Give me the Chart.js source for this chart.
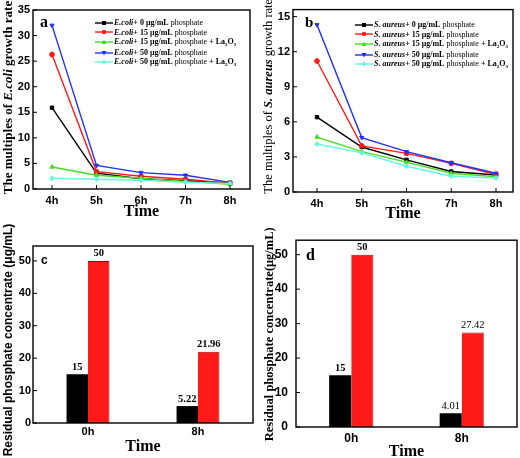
<!DOCTYPE html>
<html>
<head>
<meta charset="utf-8">
<script src="https://cdn.jsdelivr.net/npm/chart.js@4.4.1/dist/chart.umd.min.js"></script>
<style>
  body { margin: 0; background: #fff; }
  #wrap { position: relative; width: 520px; height: 458px; overflow: hidden; background: #fff; }
  canvas { position: absolute; }
  .ytitle { position: absolute; white-space: nowrap; text-align: center; transform: rotate(-90deg); font-family: "Liberation Serif", serif; color: #000; line-height: 1; }
  .tag { position: absolute; color: #000; line-height: 1; }
  .legend { position: absolute; font-family: "Liberation Serif", serif; font-size: 8px; color: #000; }
  .legend div { height: 9.6px; line-height: 9.6px; white-space: nowrap; display: flex; align-items: center; }
  .legend span { display: block; height: 9.6px; line-height: 9.6px; }
  .legend sub { font-size: 5px; line-height: 0; vertical-align: -1.5px; }
  .legend svg { margin-right: 1px; flex: none; }
</style>
</head>
<body>
<div id="wrap">
  <canvas id="ca" width="260" height="225" style="left:0;top:0"></canvas>
  <canvas id="cb" width="260" height="225" style="left:260px;top:0"></canvas>
  <canvas id="cc" width="260" height="233" style="left:0;top:225px"></canvas>
  <canvas id="cd" width="260" height="233" style="left:260px;top:225px"></canvas>

  <div class="ytitle" style="left:-143px;top:91px;width:300px;font-weight:bold;font-size:13px">The multiples of <i>E.coli</i> growth rate</div>
  <div class="ytitle" style="left:118px;top:90px;width:300px;font-size:12.5px">The multiples of <b><i>S. aureus</i></b> growth rate</div>
  <div class="ytitle" style="left:-142px;top:334px;width:300px;font-family:'Liberation Sans',sans-serif;font-weight:bold;font-size:12px">Residual phosphate concentrate (μg/mL)</div>
  <div class="ytitle" style="left:119px;top:328px;width:300px;font-weight:bold;font-size:12.5px">Residual phosphate concentrate(μg/mL)</div>

  <div class="tag" style="left:40px;top:13px;font:bold 16px 'Liberation Serif'">a</div>
  <div class="tag" style="left:305px;top:14px;font:bold 15px 'Liberation Serif'">b</div>
  <div class="tag" style="left:41px;top:253px;font:bold 12px 'Liberation Sans'">c</div>
  <div class="tag" style="left:306px;top:246px;font:bold 16px 'Liberation Serif'">d</div>

  <div class="legend" id="lega" style="left:95px;top:18px"></div>
  <div class="legend" id="legb" style="left:355px;top:20px"></div>
</div>
<script>
const hours = [4, 5, 6, 7, 8];
const hourLabels = ["4h", "5h", "6h", "7h", "8h"];

// panel a: E.coli
const ecoli0 = [15.9, 3.1, 2.0, 1.6, 1.2];
const ecoli15 = [26.3, 3.4, 2.5, 1.9, 1.1];
const ecoli15La = [4.3, 2.7, 2.1, 1.5, 0.9];
const ecoli50 = [32.0, 4.6, 3.2, 2.7, 1.3];
const ecoli50La = [2.1, 1.9, 1.7, 1.3, 1.1];
const ecoliTicks = [0, 5, 10, 15, 20, 25, 30, 35];

// panel b: S. aureus
const saur0 = [6.4, 3.85, 2.75, 1.75, 1.45];
const saur15 = [11.2, 3.95, 3.3, 2.45, 1.5];
const saur15La = [4.7, 3.45, 2.55, 1.6, 1.3];
const saur50 = [14.3, 4.65, 3.45, 2.5, 1.6];
const saur50La = [4.1, 3.35, 2.2, 1.35, 1.2];
const saurTicks = [0, 3, 6, 9, 12, 15];

// panels c, d: residual phosphate
const timeLabels = ["0h", "8h"];
const ecoliLow = [15, 5.22];
const ecoliHigh = [50, 21.96];
const saurLow = [15, 4.01];
const saurHigh = [50, 27.42];
const concTicks = [0, 10, 20, 30, 40, 50];

const seriesColors = ["#000000", "#ff1a1a", "#44dd22", "#2233ee", "#66f5e0"];
const seriesMarkers = [["rect", 0], ["circle", 0], ["triangle", 0], ["triangle", 180], ["rectRot", 0]];
const legendDoses = ["0 μg/mL", "15 μg/mL", "15 μg/mL", "50 μg/mL", "50 μg/mL"];
const legendLa = [false, false, true, false, true];

const SERIF = "'Liberation Serif', serif";
const SANS = "'Liberation Sans', Arial, sans-serif";

// box round the plot area plus inward ticks
const framePlugin = {
    id: "frame",
    afterDraw(chart) {
        const { ctx, chartArea: a, scales } = chart;
        ctx.save();
        ctx.strokeStyle = "#000";
        ctx.lineWidth = 1.4;
        ctx.strokeRect(a.left, a.top, a.right - a.left, a.bottom - a.top);
        ctx.lineWidth = 1;
        ctx.beginPath();
        scales.y.ticks.forEach((t) => {
            const py = scales.y.getPixelForValue(t.value);
            ctx.moveTo(a.left, py); ctx.lineTo(a.left + 4, py);
        });
        if (scales.x.type === "linear") {
            scales.x.ticks.forEach((t) => {
                const px = scales.x.getPixelForValue(t.value);
                ctx.moveTo(px, a.bottom); ctx.lineTo(px, a.bottom - 4);
            });
        }
        ctx.stroke();
        ctx.restore();
    }
};

// number above every bar
const valuePlugin = {
    id: "values",
    afterDatasetsDraw(chart, args, opts) {
        if (!opts.on) return;
        const ctx = chart.ctx;
        ctx.save();
        ctx.fillStyle = "#000";
        ctx.textAlign = "center";
        ctx.textBaseline = "bottom";
        chart.data.datasets.forEach((ds, i) => {
            chart.getDatasetMeta(i).data.forEach((el, j) => {
                ctx.font = opts.weights[j] + " " + opts.size + "px " + SERIF;
                ctx.fillText(String(ds.data[j]), el.x, el.y - 2);
            });
        });
        ctx.restore();
    }
};

const lineSet = (vals, k) => ({
    data: vals.map((v, i) => ({ x: hours[i], y: v })),
    borderColor: seriesColors[k],
    backgroundColor: seriesColors[k],
    borderWidth: 1.4,
    pointStyle: seriesMarkers[k][0],
    pointRotation: seriesMarkers[k][1],
    pointRadius: 2.4,
    pointBorderWidth: 1,
    tension: 0
});

const noGrid = { display: false, drawTicks: false };

function lineChart(id, sets, o) {
    return new Chart(document.getElementById(id), {
        type: "line",
        data: { datasets: sets.map((s, k) => lineSet(s, k)).reverse() },
        options: {
            responsive: false, animation: false,
            layout: { padding: { left: 0, top: o.top, right: o.right, bottom: 0 } },
            plugins: { legend: { display: false }, tooltip: { enabled: false }, values: { on: false } },
            scales: {
                x: {
                    type: "linear", min: o.xmin, max: o.xmax,
                    afterBuildTicks: (s) => { s.ticks = hours.map((v) => ({ value: v })); },
                    afterFit: (s) => { s.height = o.xh; },
                    grid: noGrid,
                    border: { display: false },
                    ticks: { callback: (v) => hourLabels[hours.indexOf(v)], color: "#000", padding: o.xpad, font: { family: SANS, weight: "bold", size: 11 } },
                    title: { display: true, text: "Time", color: "#000", padding: { top: 0, bottom: o.tpad }, font: { family: SERIF, weight: "bold", size: 16, lineHeight: 1 } }
                },
                y: {
                    min: 0, max: o.ymax,
                    afterBuildTicks: (s) => { s.ticks = o.yticks.map((v) => ({ value: v })); },
                    afterFit: (s) => { s.width = 33; },
                    grid: noGrid,
                    border: { display: false },
                    ticks: { color: "#000", padding: 3, font: { family: SANS, weight: "bold", size: 11 } }
                }
            }
        },
        plugins: [framePlugin, valuePlugin]
    });
}

function barChart(id, low, high, o) {
    return new Chart(document.getElementById(id), {
        type: "bar",
        data: {
            labels: timeLabels,
            datasets: [
                { data: low, backgroundColor: "#000", barPercentage: 1, categoryPercentage: o.cat },
                { data: high, backgroundColor: "#ff1a1a", borderColor: "#a00", borderWidth: { top: 1, right: 0.6, left: 0, bottom: 0 }, barPercentage: 1, categoryPercentage: o.cat }
            ]
        },
        options: {
            responsive: false, animation: false,
            layout: { padding: { left: 0, top: o.top, right: o.right, bottom: 0 } },
            plugins: { legend: { display: false }, tooltip: { enabled: false }, values: { on: true, size: 10.5, weights: o.weights } },
            scales: {
                x: {
                    afterFit: (s) => { s.height = o.xh; },
                    grid: noGrid,
                    border: { display: false },
                    ticks: { color: "#000", padding: o.xpad, font: { family: SANS, weight: "bold", size: o.tick } },
                    title: { display: true, text: "Time", color: "#000", padding: { top: 0, bottom: o.tpad }, font: { family: SERIF, weight: "bold", size: 16, lineHeight: 1 } }
                },
                y: {
                    min: 0, max: o.ymax,
                    afterBuildTicks: (s) => { s.ticks = concTicks.map((v) => ({ value: v })); },
                    afterFit: (s) => { s.width = o.yw; },
                    grid: noGrid,
                    border: { display: false },
                    ticks: { color: "#000", padding: o.ypad, font: { family: SANS, weight: "bold", size: o.tick } }
                }
            }
        },
        plugins: [framePlugin, valuePlugin]
    });
}

lineChart("ca", [ecoli0, ecoli15, ecoli15La, ecoli50, ecoli50La],
    { xmin: 3.573, xmax: 8.449, ymax: 35, yticks: ecoliTicks, top: 10, right: 10, xh: 36, xpad: 5, tpad: 5 });
lineChart("cb", [saur0, saur15, saur15La, saur50, saur50La],
    { xmin: 3.464, xmax: 8.38, ymax: 15.6, yticks: saurTicks, top: 9, right: 7, xh: 33, xpad: 5, tpad: 3 });

barChart("cc", ecoliLow, ecoliHigh, {
    cat: 0.39, top: 21, right: 7, xh: 35, xpad: 2, tpad: 3, tick: 11, yw: 33, ypad: 2, ymax: 54.6,
    weights: ["bold", "bold"]
});
barChart("cd", saurLow, saurHigh, {
    cat: 0.4, top: 9, right: 3, xh: 31, xpad: 4, tpad: -2, tick: 12, yw: 36, ypad: 8, ymax: 54.2,
    weights: ["bold", "normal"]
});

// legends for a and b
function symbol(k) {
    const c = seriesColors[k];
    const m = seriesMarkers[k];
    let mark;
    if (m[0] === "rect") mark = `<rect x="7" y="2" width="4" height="4" fill="${c}"/>`;
    else if (m[0] === "circle") mark = `<circle cx="9" cy="4" r="2.2" fill="${c}"/>`;
    else if (m[0] === "triangle" && m[1] === 0) mark = `<polygon points="9,1.5 11.5,6 6.5,6" fill="${c}"/>`;
    else if (m[0] === "triangle") mark = `<polygon points="9,6.5 11.5,2 6.5,2" fill="${c}"/>`;
    else mark = `<polygon points="9,1.5 11.5,4 9,6.5 6.5,4" fill="${c}"/>`;
    return `<svg width="18" height="8"><line x1="0" y1="4" x2="18" y2="4" stroke="${c}" stroke-width="1.4"/>${mark}</svg>`;
}
function legend(id, name) {
    document.getElementById(id).innerHTML = legendDoses.map((d, k) =>
        `<div style="${k === 3 ? "margin-top:1px" : ""}">${symbol(k)}<span><b><i>${name}</i>+ ${d}</b>&nbsp;phosphate${legendLa[k] ? "&nbsp;<b>+ La<sub>2</sub>O<sub>3</sub></b>" : ""}</span></div>`
    ).join("");
}
legend("lega", "E.coli");
legend("legb", "S. aureus");
</script>
</body>
</html>
